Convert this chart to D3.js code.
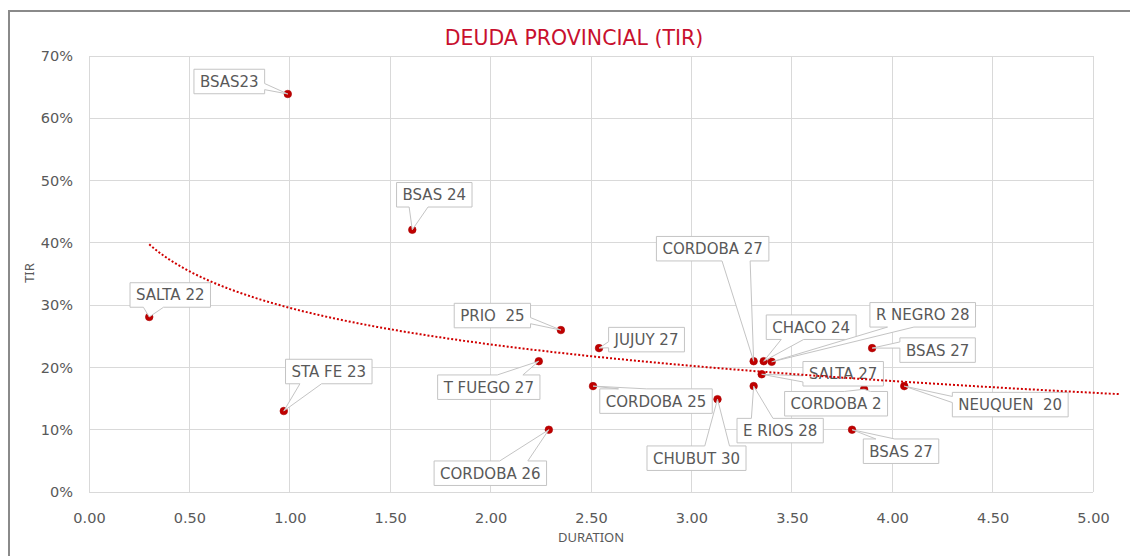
<!DOCTYPE html>
<html>
<head>
<meta charset="utf-8">
<script src="https://cdn.jsdelivr.net/npm/d3@7"></script>
<style>
  html, body { margin: 0; padding: 0; background: #fff; }
  svg { display: block; }
</style>
</head>
<body>
<svg id="chart" width="1130" height="556"></svg>
<script>
// ---------------- DATA ----------------
const names = ["BSAS23", "BSAS 24", "SALTA 22", "STA FE 23", "PRIO  25", "T FUEGO 27", "JUJUY 27",
  "CORDOBA 25", "CORDOBA 26", "CHUBUT 30", "CORDOBA 27", "CHACO 24", "R NEGRO 28", "SALTA 27",
  "E RIOS 28", "BSAS 27", "NEUQUEN  20", "BSAS 27", "CORDOBA 2"];
const duration = [0.99, 1.61, 0.30, 0.97, 2.35, 2.24, 2.54,
  2.51, 2.29, 3.13, 3.31, 3.36, 3.40, 3.35,
  3.31, 3.90, 4.06, 3.80, 3.86];
const tir = [63.9, 42.1, 28.1, 13.0, 26.0, 21.0, 23.1,
  17.0, 10.0, 14.9, 21.0, 21.0, 20.9, 18.9,
  17.0, 23.1, 17.0, 10.0, 16.5];
const xTicks = [0, 0.5, 1, 1.5, 2, 2.5, 3, 3.5, 4, 4.5, 5];
const yTicks = [0, 10, 20, 30, 40, 50, 60, 70];
const title = "DEUDA PROVINCIAL (TIR)";
const xTitle = "DURATION";
const yTitle = "TIR";
const trendForward = 0.13; // trendline forward forecast (duration units)

// ---------------- LAYOUT (label callout offsets, px from point) ----------------
const labelDx = [-58.5, 22, 21, 45, -68.5, -50, 47.5, 63, -58.5, -21, -41, 47.5, 151, 81.5, 26.5, 65.5, 106, 49, -28];
const labelDy = [-12.5, -35, -22, -39.5, -14.5, 26, -8.5, 15, 43.5, 59, -112.5, -34, -47, -0.5, 44.5, 2, 18.5, 21.5, 14.5];

// ---------------- CHART ----------------
const svg = d3.select("#chart");
const W = 1130, H = 556;
const plot = { left: 89, right: 1093, top: 56, bottom: 492 };

svg.append("rect").attr("x", 0).attr("y", 0).attr("width", W).attr("height", H).attr("fill", "#fff");
// outer chart frame
svg.append("rect").attr("x", 9).attr("y", 11).attr("width", 1300).attr("height", 700)
  .attr("fill", "none").attr("stroke", "#8a8a8a").attr("stroke-width", 2);

const x = d3.scaleLinear().domain([0, 5]).range([plot.left, plot.right]);
const y = d3.scaleLinear().domain([0, 70]).range([plot.bottom, plot.top]);

const textColor = "#595959";
const gridColor = "#d9d9d9";

// grid
const grid = svg.append("g");
grid.selectAll("line.v").data(xTicks).join("line")
  .attr("x1", d => x(d)).attr("x2", d => x(d))
  .attr("y1", plot.top).attr("y2", plot.bottom)
  .attr("stroke", gridColor).attr("stroke-width", 1).attr("shape-rendering", "crispEdges");
grid.selectAll("line.h").data(yTicks).join("line")
  .attr("x1", plot.left).attr("x2", plot.right)
  .attr("y1", d => y(d)).attr("y2", d => y(d))
  .attr("stroke", gridColor).attr("stroke-width", 1).attr("shape-rendering", "crispEdges");

// axes (D3 axes, lines hidden, labels styled)
const xAxis = svg.append("g").attr("transform", `translate(0,${plot.bottom})`)
  .call(d3.axisBottom(x).tickValues(xTicks).tickFormat(d3.format(".2f")).tickSize(0).tickPadding(21));
const yAxis = svg.append("g").attr("transform", `translate(${plot.left},0)`)
  .call(d3.axisLeft(y).tickValues(yTicks).tickFormat(d => d + "%").tickSize(0).tickPadding(16));
[xAxis, yAxis].forEach(a => {
  a.select(".domain").remove();
  a.selectAll("text").attr("fill", textColor)
    .style("font-family", "'DejaVu Sans', Verdana, sans-serif").style("font-size", "14.5px");
});

// title
svg.append("text").attr("x", 574).attr("y", 45).attr("text-anchor", "middle")
  .attr("fill", "#C8102E").style("font-family", "'DejaVu Sans', Verdana, sans-serif")
  .style("font-size", "20.5px").text(title);
// axis titles
svg.append("text").attr("x", 591).attr("y", 542).attr("text-anchor", "middle")
  .attr("fill", textColor).style("font-family", "'Noto Sans', sans-serif").style("font-size", "13px").text(xTitle);
svg.append("text").attr("transform", "translate(34,273) rotate(-90)").attr("text-anchor", "middle")
  .attr("fill", textColor).style("font-family", "'Noto Sans', sans-serif").style("font-size", "13px").text(yTitle);

// data
const pts = names.map((n, i) => ({ name: n, dx: duration[i], ty: tir[i], ox: labelDx[i], oy: labelDy[i] }));

// points
svg.append("g").selectAll("circle").data(pts).join("circle")
  .attr("cx", d => x(d.dx)).attr("cy", d => y(d.ty)).attr("r", 3.8)
  .attr("fill", "#C00000").attr("stroke", "#a80000").attr("stroke-width", 0.6);

// callout labels (wedgeRectCallout geometry)
function calloutPath(x0, y0, w, h, tx, ty) {
  const cx = x0 + w / 2, cy = y0 + h / 2;
  const dxp = tx - cx, dyp = ty - cy;
  const inside = tx >= x0 && tx <= x0 + w && ty >= y0 && ty <= y0 + h;
  let side = null;
  if (!inside) {
    if (Math.abs(dyp) > Math.abs(dxp) * h / w) side = dyp < 0 ? "top" : "bottom";
    else side = dxp < 0 ? "left" : "right";
  }
  const xg1 = dxp > 0 ? 7 : 2, xg2 = dxp > 0 ? 10 : 5;
  const yg1 = dyp > 0 ? 7 : 2, yg2 = dyp > 0 ? 10 : 5;
  const bx1 = x0 + w * xg1 / 12, bx2 = x0 + w * xg2 / 12;
  const by1 = y0 + h * yg1 / 12, by2 = y0 + h * yg2 / 12;
  const p = d3.path();
  p.moveTo(x0, y0);
  if (side === "top") { p.lineTo(bx1, y0); p.lineTo(tx, ty); p.lineTo(bx2, y0); }
  p.lineTo(x0 + w, y0);
  if (side === "right") { p.lineTo(x0 + w, by1); p.lineTo(tx, ty); p.lineTo(x0 + w, by2); }
  p.lineTo(x0 + w, y0 + h);
  if (side === "bottom") { p.lineTo(bx2, y0 + h); p.lineTo(tx, ty); p.lineTo(bx1, y0 + h); }
  p.lineTo(x0, y0 + h);
  if (side === "left") { p.lineTo(x0, by2); p.lineTo(tx, ty); p.lineTo(x0, by1); }
  p.closePath();
  return p.toString();
}

const lab = svg.append("g");
pts.forEach(d => {
  const px = x(d.dx), py = y(d.ty);
  const cx = px + d.ox, cy = py + d.oy;
  const g = lab.append("g");
  const path = g.append("path").attr("fill", "#fff").attr("stroke", "#c4c4c4").attr("stroke-width", 1);
  const t = g.append("text").attr("x", cx).attr("y", cy + 5.5).attr("text-anchor", "middle")
    .attr("fill", textColor).style("font-family", "'DejaVu Sans', Verdana, sans-serif")
    .style("font-size", "15px").style("white-space", "pre").attr("xml:space", "preserve").text(d.name);
  const tw = t.node().getComputedTextLength();
  const w = tw + 12, h = 24.5;
  path.attr("d", calloutPath(cx - w / 2, cy - h / 2, w, h, px, py));
});

// logarithmic trendline, least squares fit on the data
const lx = duration.map(Math.log);
const mx = d3.mean(lx), my = d3.mean(tir);
const sxy = d3.sum(lx, (v, i) => (v - mx) * (tir[i] - my));
const sxx = d3.sum(lx, v => (v - mx) * (v - mx));
const b = sxy / sxx, a = my - b * mx;
const x0t = d3.min(duration), x1t = x.domain()[1] + trendForward;
const tr = d3.range(0, 201).map(i => x0t + (x1t - x0t) * i / 200);
svg.append("path").datum(tr)
  .attr("d", d3.line().x(v => x(v)).y(v => y(a + b * Math.log(v))))
  .attr("fill", "none").attr("stroke", "#D00000").attr("stroke-width", 2)
  .attr("stroke-dasharray", "2,2");
</script>
</body>
</html>
